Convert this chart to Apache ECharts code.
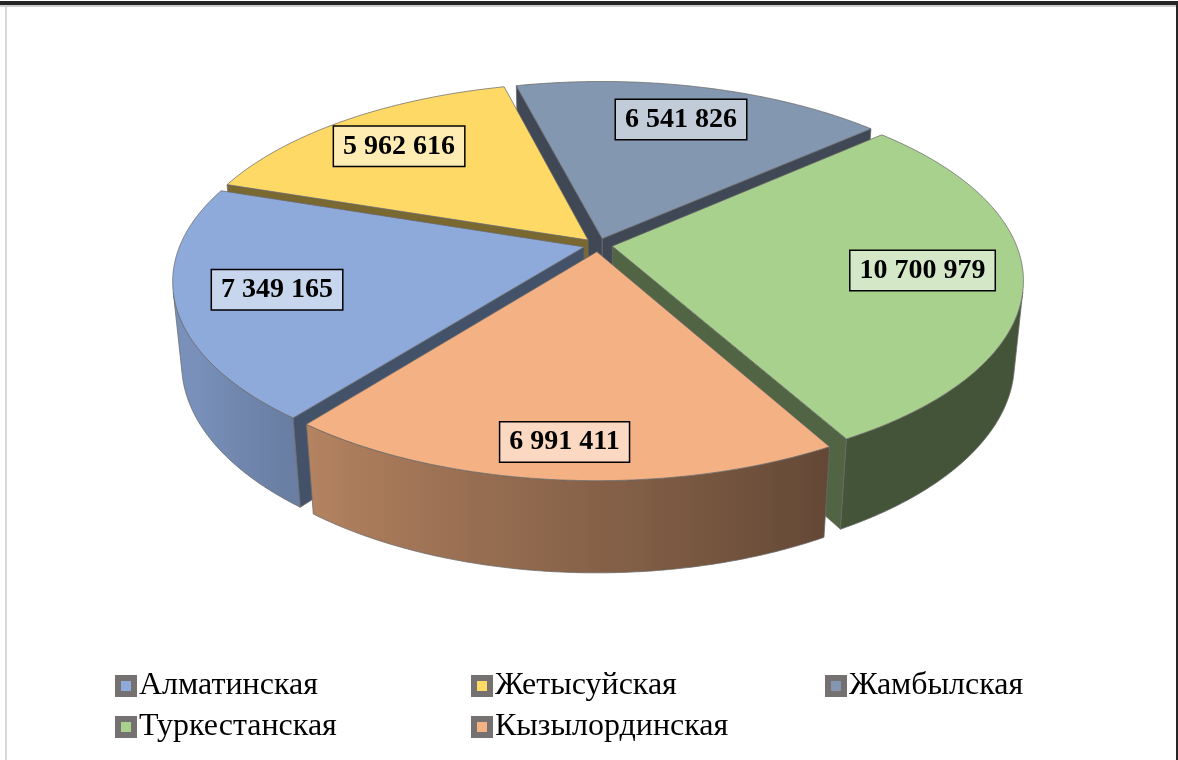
<!DOCTYPE html>
<html>
<head>
<meta charset="utf-8">
<script src="https://cdn.jsdelivr.net/npm/echarts@6/dist/echarts.min.js"></script>
<style>
  html, body { margin: 0; padding: 0; background: #fff; }
  #chart { width: 1178px; height: 760px; }
</style>
</head>
<body>
<div id="chart"></div>
<script>
// регионы и численность (по часовой стрелке, как в легенде)
const regions = ["Алматинская", "Жетысуйская", "Жамбылская", "Туркестанская", "Кызылординская"];
const values = [7349165, 5962616, 6541826, 10700979, 6991411];
const colors = ["#8eaadb", "#ffd966", "#8497b0", "#a9d18e", "#f4b183"];

// колонки легенды (индексы регионов)
const legendCols = [[0, 3], [1, 4], [2]];

// геометрия объёмного круга: перспектива, наклон, толщина, выдвижение
const CX = 598, CY = 245, FOCAL = 2060, DIST = 5.1;
const TILT = (27.5 * Math.PI) / 180;
const THICK = 0.23, EXPLODE = 0.036, START = 218;
const sinT = Math.sin(TILT), cosT = Math.cos(TILT);
const camZ = -DIST * cosT;
const EDGE = "rgba(105,105,105,0.75)";
const SERIF = "Liberation Serif";

const total = values.reduce((a, b) => a + b, 0);
const starts = [];
let acc = START;
values.forEach((v) => {
  starts.push(acc);
  acc += (v / total) * 360;
});

const rad = (a) => (a * Math.PI) / 180;

function project(x, y, z) {
  const yp = z * sinT + y * cosT;
  const d = DIST + z * cosT - y * sinT;
  return [CX + (FOCAL * x) / d, CY - (FOCAL * yp) / d];
}

function rgb(hex) {
  return [1, 3, 5].map((i) => parseInt(hex.substr(i, 2), 16));
}
function shade(hex, k) {
  const c = rgb(hex).map((v) => Math.round(v * k));
  return "rgb(" + c.join(",") + ")";
}
function tint(hex, k) {
  const c = rgb(hex).map((v) => Math.round(v + (255 - v) * k));
  return "rgb(" + c.join(",") + ")";
}
// освещение боковой стенки: слева светлее
function wallLight(a) {
  const n = ((a % 360) + 360) % 360;
  const t = Math.min(1, Math.max(0, (n - 150) / 90));
  return 0.4 + 0.45 * t;
}
function fmt(n) {
  return String(n).replace(/\B(?=(\d{3})+(?!\d))/g, " ");
}

function renderSlice(i) {
  return function (params, api) {
    const v = api.value(0);
    const a0 = starts[i];
    const a1 = a0 + (v / total) * 360;
    const mid = (a0 + a1) / 2;
    const ox = EXPLODE * Math.sin(rad(mid));
    const oz = EXPLODE * Math.cos(rad(mid));
    const pt = (a, r, y) =>
      project(ox + r * Math.sin(rad(a)), y, oz + r * Math.cos(rad(a)));
    const color = colors[i];

    // порядок отрисовки: дальние сектора раньше
    const dMid = DIST + (oz + 0.6 * Math.cos(rad(mid))) * cosT;
    const base = Math.round((10 - dMid) * 100) * 10;

    const n = Math.ceil((a1 - a0) / 0.5);
    const angles = [];
    for (let k = 0; k <= n; k++) angles.push(a0 + ((a1 - a0) * k) / n);

    const children = [];

    // боковые грани разреза
    [[a0, -1], [a1, 1]].forEach(([a, s]) => {
      const nx = s * Math.cos(rad(a));
      const nz = -s * Math.sin(rad(a));
      const mx = ox + 0.5 * Math.sin(rad(a));
      const mz = oz + 0.5 * Math.cos(rad(a));
      if (nx * -mx + nz * (camZ - mz) > 0) {
        children.push({
          type: "polygon",
          z2: base,
          shape: { points: [pt(a, 0, 0), pt(a, 1, 0), pt(a, 1, -THICK), pt(a, 0, -THICK)] },
          style: { fill: shade(color, 0.48), stroke: EDGE, lineWidth: 1 },
        });
      }
    });

    // внешняя стенка (видимая часть)
    const vis = angles.filter((a) => {
      const s = Math.sin(rad(a)), c = Math.cos(rad(a));
      return s * -(ox + s) + c * (camZ - (oz + c)) > 0;
    });
    if (vis.length > 1) {
      const upper = vis.map((a) => pt(a, 1, 0));
      const lower = vis.map((a) => pt(a, 1, -THICK)).reverse();
      const xs = upper.map((p) => p[0]);
      const x0 = Math.min(...xs), x1 = Math.max(...xs);
      const stops = [];
      vis.forEach((a, k) => {
        if (k % 4 === 0 || k === vis.length - 1) {
          stops.push({ offset: (upper[k][0] - x0) / (x1 - x0 || 1), color: shade(color, wallLight(a)) });
        }
      });
      stops.sort((p, q) => p.offset - q.offset);
      children.push({
        type: "polygon",
        z2: base + 1,
        shape: { points: upper.concat(lower) },
        style: {
          fill: new echarts.graphic.LinearGradient(x0, 0, x1, 0, stops, true),
          stroke: EDGE,
          lineWidth: 1,
        },
      });
    }

    // верхняя грань
    const top = [pt(a0, 0, 0)].concat(angles.map((a) => pt(a, 1, 0)));
    children.push({
      type: "polygon",
      z2: base + 2,
      shape: { points: top },
      style: { fill: color, stroke: EDGE, lineWidth: 1 },
    });

    // подпись значения
    const rho = 0.76 + 0.1 * Math.pow(Math.max(0, -Math.cos(rad(mid))), 4);
    const lp = project(ox + rho * Math.sin(rad(mid)), 0, oz + rho * Math.cos(rad(mid)));
    children.push({
      type: "text",
      z2: 100000,
      x: lp[0],
      y: lp[1],
      style: {
        text: fmt(v),
        fill: "#000",
        fontFamily: SERIF,
        fontWeight: "bold",
        fontSize: 28,
        align: "center",
        verticalAlign: "middle",
        lineHeight: 28,
        backgroundColor: tint(color, 0.5),
        borderColor: "#000",
        borderWidth: 1.5,
        padding: [6, 9, 5, 9],
      },
    });

    return { type: "group", children: children };
  };
}

const chart = echarts.init(document.getElementById("chart"));

const series = regions.map((name, i) => ({
  name: name,
  type: "custom",
  coordinateSystem: "none",
  itemStyle: { color: colors[i] },
  renderItem: renderSlice(i),
  data: [[values[i]]],
  silent: true,
}));

const legendLeft = [115, 471, 825];
const legend = legendCols.map((col, c) => ({
  orient: "vertical",
  left: legendLeft[c],
  top: 669,
  padding: 0,
  itemGap: 7,
  itemWidth: 16,
  itemHeight: 16,
  icon: "rect",
  selectedMode: false,
  itemStyle: { borderColor: "#767171", borderWidth: 6 },
  textStyle: {
    fontFamily: SERIF,
    fontSize: 32,
    lineHeight: 34,
    color: "#000",
  },
  data: col.map((k) => regions[k]),
}));

chart.setOption({
  animation: false,
  backgroundColor: "#fff",
  legend: legend,
  graphic: [
    { type: "rect", shape: { x: 0, y: 1, width: 1178, height: 4 }, style: { fill: "#262626" } },
    { type: "rect", shape: { x: 0, y: 5, width: 1178, height: 2 }, style: { fill: "#cfcfcf" } },
    { type: "rect", shape: { x: 5, y: 7, width: 2, height: 753 }, style: { fill: "#d9d9d9" } },
    { type: "rect", shape: { x: 1176, y: 1, width: 2, height: 759 }, style: { fill: "#262626" } },
  ],
  series: series,
});
</script>
</body>
</html>
